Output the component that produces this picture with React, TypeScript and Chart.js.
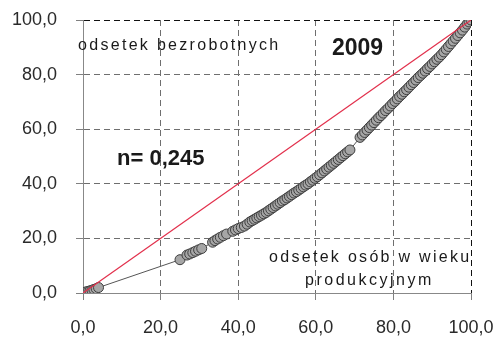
import React, { useEffect, useRef } from 'react';
import { Chart, registerables } from 'chart.js';

Chart.register(...registerables);

// ---- data ----
const axisTicks = [0, 20, 40, 60, 80, 100];

const lorenzX = [
  0, 0.4, 0.8, 1.3, 1.8, 2.3, 2.8, 3.4, 4.0,
  25.0,
  26.8, 27.5, 28.3, 29.0, 29.8, 30.6,
  33.4, 34.0, 34.7, 35.4, 36.2, 37.0,
  38.6, 39.3, 40.0, 40.8, 41.6, 42.3,
  43.0, 43.6, 44.2, 44.8, 45.4, 46.0, 46.6, 47.2, 47.8, 48.4, 49.0, 49.6,
  50.2, 50.8, 51.4, 52.0, 52.6, 53.2, 53.8, 54.4, 55.0, 55.6, 56.2, 56.8,
  57.4, 58.0, 58.6, 59.2, 59.8, 60.4, 61.0, 61.6, 62.2, 62.8, 63.4, 64.0,
  64.6, 65.2, 65.8, 66.4, 67.0, 67.6, 68.2, 68.8,
  71.4, 72.0, 72.6, 73.2, 73.8, 74.4, 75.0, 75.6, 76.2, 76.8, 77.4, 78.0,
  78.6, 79.2, 79.8, 80.4, 81.0, 81.6, 82.2, 82.8, 83.4, 84.0, 84.6, 85.2,
  85.8, 86.4, 87.0, 87.6, 88.2, 88.8, 89.4, 90.0, 90.6, 91.2, 91.8, 92.4,
  93.0, 93.6, 94.2, 94.8, 95.4, 96.0, 96.6, 97.2, 97.8, 98.4, 99.0, 99.5, 100,
];

const lorenzY = [
  0, 0.2, 0.4, 0.6, 0.8, 1.0, 1.3, 1.6, 2.0,
  12.2,
  13.9, 14.3, 14.8, 15.3, 15.8, 16.3,
  18.6, 19.2, 19.8, 20.4, 21.0, 21.6,
  22.6, 23.1, 23.6, 24.0, 24.5, 25.2,
  26.0, 26.5, 27.0, 27.5, 28.0, 28.5, 29.0, 29.5, 30.1, 30.7, 31.3, 31.9,
  32.5, 33.1, 33.7, 34.2, 34.8, 35.4, 36.0, 36.6, 37.1, 37.7, 38.3, 38.9,
  39.5, 40.0, 40.7, 41.3, 42.0, 42.6, 43.3, 44.0, 44.7, 45.4, 46.1, 46.8,
  47.5, 48.2, 48.9, 49.6, 50.3, 51.0, 51.7, 52.4,
  57.0, 57.9, 58.8, 59.7, 60.6, 61.5, 62.4, 63.3, 64.2, 65.0, 65.9, 66.8,
  67.6, 68.5, 69.4, 70.2, 71.1, 72.0, 72.8, 73.7, 74.5, 75.4, 76.3, 77.1,
  78.0, 78.9, 79.7, 80.5, 81.3, 82.2, 83.0, 83.9, 84.7, 85.6, 86.4, 87.3,
  88.3, 89.3, 90.3, 91.3, 92.3, 93.3, 94.3, 95.3, 96.3, 97.4, 98.5, 99.3, 100,
];

const equalityX = [0, 100];
const equalityY = [0, 100];

const yearLabel = '2009';
const giniLabel = 'n= 0,245';
const yTitle = 'odsetek bezrobotnych';
const xTitleLines = ['odsetek osób w wieku', 'produkcyjnym'];

const fmt = (v: number) => v.toFixed(1).replace('.', ',');

const FONT = "'Liberation Sans', Arial, sans-serif";

const textPlugin = {
  id: 'annotTexts',
  afterDraw(chart: any) {
    const ctx = chart.ctx as CanvasRenderingContext2D;
    ctx.save();
    ctx.fillStyle = '#1a1a1a';
    ctx.textBaseline = 'alphabetic';
    ctx.textAlign = 'left';
    const put = (t: string, x: number, y: number, font: string, sp: number) => {
      ctx.font = font;
      (ctx as any).letterSpacing = sp + 'px';
      ctx.fillText(t, x, y);
    };
    put(yTitle, 78, 50, `16px ${FONT}`, 2.3);
    put(xTitleLines[0], 269, 262, `16px ${FONT}`, 2.3);
    put(xTitleLines[1], 305, 285, `16px ${FONT}`, 2.5);
    put(yearLabel, 332, 55, `bold 23px ${FONT}`, 0);
    put(giniLabel, 117, 165, `bold 22px ${FONT}`, 0);
    ctx.restore();
  },
};

export default function App() {
  const ref = useRef<HTMLCanvasElement | null>(null);

  useEffect(() => {
    document.body.style.margin = '0';
    const canvas = ref.current!;
    const gridColor = (c: any) =>
      c.tick && c.tick.value === 100 ? '#111111' : '#6e6e6e';
    const zeroPad = (s: any) => {
      s.paddingLeft = 0;
      s.paddingRight = 0;
      s.paddingTop = 0;
      s.paddingBottom = 0;
    };

    const chart = new Chart(canvas, {
      type: 'scatter',
      data: {
        datasets: [
          {
            label: 'equality',
            data: equalityX.map((x, i) => ({ x, y: equalityY[i] })),
            showLine: true,
            borderColor: '#e2304c',
            borderWidth: 1.2,
            pointRadius: 0,
            fill: false,
          },
          {
            label: 'lorenz',
            data: lorenzX.map((x, i) => ({ x, y: lorenzY[i] })),
            showLine: true,
            borderColor: '#555555',
            borderWidth: 1,
            pointRadius: 5,
            pointBackgroundColor: '#a6a6a6',
            pointBorderColor: '#3e3e3e',
            pointBorderWidth: 1,
            fill: false,
          },
        ],
      },
      options: {
        animation: false,
        responsive: false,
        devicePixelRatio: 1,
        layout: { padding: { left: 0, right: 25, top: 20, bottom: 0 } },
        plugins: {
          legend: { display: false },
          tooltip: { enabled: false },
          title: { display: false },
        },
        scales: {
          x: {
            type: 'linear',
            min: 0,
            max: 100,
            afterBuildTicks: (s: any) => {
              s.ticks = axisTicks.map((v) => ({ value: v }));
            },
            afterFit: (s: any) => {
              s.height = 46;
              zeroPad(s);
            },
            ticks: {
              callback: (v: any) => fmt(Number(v)),
              font: { size: 18, family: FONT },
              color: '#2a2a2a',
              padding: 17,
              maxRotation: 0,
            },
            grid: {
              color: gridColor,
              lineWidth: 1,
              tickColor: '#808080',
              tickLength: 7,
            },
            border: { color: '#888888', width: 1, dash: [6, 4] },
          },
          y: {
            type: 'linear',
            min: 0,
            max: 100,
            afterBuildTicks: (s: any) => {
              s.ticks = axisTicks.map((v) => ({ value: v }));
            },
            afterFit: (s: any) => {
              s.width = 83;
              zeroPad(s);
            },
            ticks: {
              callback: (v: any) => fmt(Number(v)),
              font: { size: 18, family: FONT },
              color: '#2a2a2a',
              padding: 19,
            },
            grid: {
              color: gridColor,
              lineWidth: 1,
              tickColor: '#808080',
              tickLength: 7,
            },
            border: { color: '#888888', width: 1, dash: [6, 4] },
          },
        },
      },
      plugins: [textPlugin],
    } as any);

    return () => chart.destroy();
  }, []);

  return (
    <div style={{ position: 'absolute', left: 0, top: 0, width: 496, height: 339, background: '#fff' }}>
      <canvas ref={ref} width={496} height={339} style={{ display: 'block' }} />
    </div>
  );
}
